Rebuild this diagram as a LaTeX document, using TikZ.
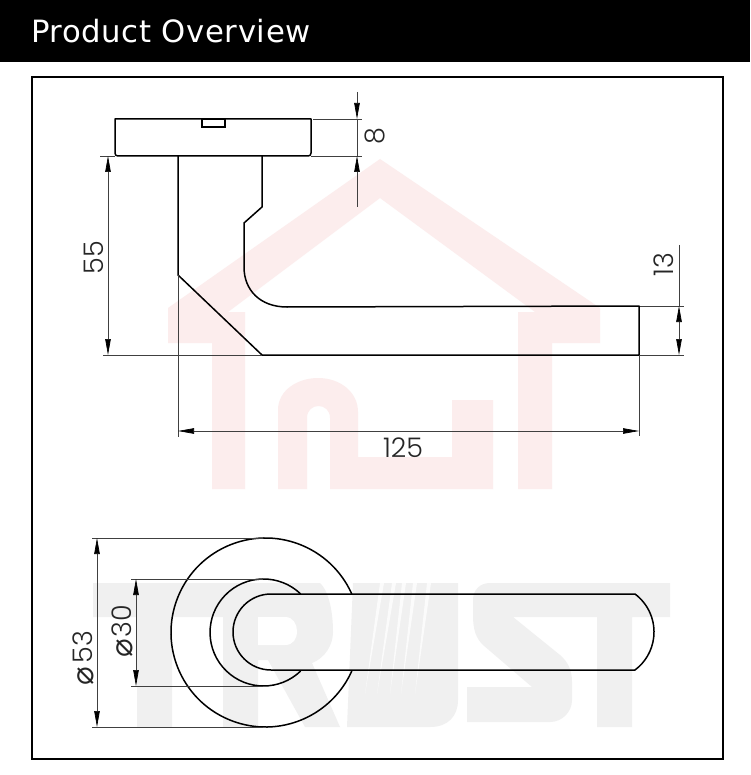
\documentclass[tikz,border=0pt]{standalone}
\usepackage{fontspec}
\usetikzlibrary{arrows.meta}
\setmainfont{DejaVu Sans}
\newfontfamily\titlefont[LetterSpace=2]{DejaVu Sans}
\newfontfamily\dimfont{Poppins Light}
\newfontfamily\symfont{DejaVu Sans}
\definecolor{housepink}{HTML}{FCEDED}
\definecolor{trustgrey}{HTML}{F0F0F0}
\tikzset{
  outline/.style={line width=1.5pt, black, line join=round},
  dimline/.style={line width=0.7pt, black!75},
  dimtip/.style={-{Triangle[length=16pt, width=5.5pt, black]}},
  dimboth/.style={{Triangle[length=16pt, width=5.5pt, black]}-{Triangle[length=16pt, width=5.5pt, black]}},
  dimlabel/.style={inner sep=0pt, font=\dimfont\fontsize{27}{27}\selectfont, text=black!85},
}
\begin{document}
\begin{tikzpicture}[x=1pt, y=-1pt]
  \useasboundingbox (0,0) rectangle (750,775);
  \fill[white] (0,0) rectangle (750,775);
  \fill[black] (0,0) rectangle (750,62);
  \node[anchor=base west, inner sep=0pt, text=white, font=\titlefont\fontsize{30.7}{31}\selectfont] (title) at (31,43) {Product Overview};

  \fill[housepink] (380,159) -- (600,308) -- (600,343) -- (552,343) -- (552,489) -- (518,489) -- (518,312) -- (535,312)
    -- (380,198) -- (228,312) -- (245,312) -- (245,489) -- (212,489) -- (212,343) -- (168,343) -- (168,308) -- cycle;
  \fill[housepink] (278,489) -- (278,410) .. controls (278,390) and (298,378) .. (318,378) .. controls (340,378) and (358,392) .. (358,412)
    -- (358,457) -- (452,457) -- (452,400) -- (493,400) -- (493,489) -- (330,489) -- (330,418) .. controls (330,402) and (307,402) .. (307,418)
    -- (307,489) -- cycle;

  \fill[trustgrey] (93,583) -- (320,583) .. controls (328,590) and (333,610) .. (333,632) .. controls (333,645) and (325,658) .. (312,663)
    -- (340,727) -- (305,727) -- (268,660) -- (258,660) -- (258,727) -- (223,727) -- (223,617) -- (172,617) -- (172,727) -- (137,727) -- (137,617) -- (93,617) -- cycle;
  \fill[white] (258,617) -- (285,617) .. controls (293,617) and (297,624) .. (297,631) .. controls (297,639) and (293,645) .. (285,645) -- (258,645) -- cycle;
  \fill[trustgrey] (353,583) -- (458,583) -- (458,700) .. controls (458,716) and (448,727) .. (430,727) -- (347,727) -- cycle;
  \foreach \topx/\botx in {380/365, 392/377, 402/390, 413/401, 427/415}
    \fill[white, opacity=0.75] (\topx,583) -- (\topx+4,583) -- (\botx,694) -- cycle;
  \fill[trustgrey] (490,583) -- (670,583) -- (670,617) -- (632,617) -- (632,727) -- (597,727) -- (597,617) -- (513,617) -- (560,655)
    .. controls (568,662) and (572,670) .. (572,682) -- (572,700) .. controls (572,712) and (562,722) .. (550,722) -- (467,722) -- (467,687) -- (532,687)
    -- (483,645) .. controls (476,638) and (473,630) .. (473,615) -- (473,600) .. controls (473,590) and (480,583) .. (490,583) -- cycle;

  \draw[line width=2pt, black] (32,77) rectangle (723,759);

  \draw[outline] (115,119) -- (115,153) .. controls (115,155) and (116,156) .. (118,156) -- (308,156) .. controls (310,156) and (311,155) .. (311,153) -- (311,119) -- cycle;
  \draw[line width=1.1pt] (202,119) rectangle (225,127);
  \draw[outline] (178,156) -- (178,275) -- (262,355) -- (639,355) -- (639,306) -- (287,307)
    .. controls (260,307) and (244,290) .. (244,267) -- (244,223) -- (262,207) -- (262,156);

  \coordinate (rosetop) at (313,119);
  \coordinate (rosebot) at (311,156);
  \coordinate (eighttop) at (362,119);
  \coordinate (eightbot) at (362,156);
  \coordinate (eightstart) at (357,92);
  \coordinate (eightend) at (357,207);
  \coordinate (eightupper) at (357,119);
  \coordinate (eightlower) at (357,156);
  \draw[dimline] (rosetop) -- (eighttop);
  \draw[dimline] (rosebot) -- (eightbot);
  \draw[dimline] (eightupper) -- (eightlower);
  \draw[dimline, dimtip] (eightstart) -- (eightupper);
  \draw[dimline, dimtip] (eightend) -- (eightlower);
  \node[dimlabel, rotate=90] (eight) at (375,136) {8};

  \coordinate (heighttop) at (108,156);
  \coordinate (heightbot) at (108,355);
  \coordinate (heightextA) at (100,156);
  \coordinate (heightextB) at (103,355);
  \coordinate (heightextC) at (262,355);
  \draw[dimline] (heightextA) -- (115,156);
  \draw[dimline] (heightextB) -- (heightextC);
  \draw[dimline, dimboth] (heighttop) -- (heightbot);
  \node[dimlabel, rotate=90] (height) at (94,258) {55};

  \coordinate (barstart) at (679,245);
  \coordinate (barupper) at (679,306);
  \coordinate (barlower) at (679,355);
  \coordinate (barbelow) at (679,338);
  \draw[dimline] (640,306) -- (684,306);
  \draw[dimline] (640,355) -- (684,355);
  \draw[dimline] (barstart) -- (barupper);
  \draw[dimline, dimtip] (barbelow) -- (barupper);
  \draw[dimline, dimtip] (679,323) -- (barlower);
  \node[dimlabel, rotate=90] (bar) at (664,265) {13};

  \coordinate (lengthleft) at (178,431);
  \coordinate (lengthright) at (639,431);
  \draw[dimline] (178,275) -- (178,437);
  \draw[dimline] (639,355) -- (639,436);
  \draw[dimline, dimboth] (lengthleft) -- (lengthright);
  \node[dimlabel] (length) at (403,448) {125};

  \draw[outline] (351.8,594) arc[start angle=-24.04, end angle=-335.96, radius=94.5];
  \draw[outline] (300.7,594) arc[start angle=-46, end angle=-314, radius=53.5];
  \draw[outline] (635,594) arc[start angle=-53.13, end angle=53.13, radius=47.5] -- (271,670)
    arc[start angle=90, end angle=270, radius=38] -- cycle;

  \coordinate (rosedtop) at (97,538);
  \coordinate (rosedbot) at (97,727);
  \coordinate (neckdtop) at (136,579);
  \coordinate (neckdbot) at (136,686);
  \draw[dimline] (92,538) -- (263,538);
  \draw[dimline] (92,727) -- (263,727);
  \draw[dimline] (131,579) -- (263,579);
  \draw[dimline] (131,686) -- (263,686);
  \draw[dimline, dimboth] (rosedtop) -- (rosedbot);
  \draw[dimline, dimboth] (neckdtop) -- (neckdbot);
  \node[dimlabel, rotate=90] (rosed) at (83,658) {{\symfont\fontsize{31}{31}\selectfont\raisebox{-1pt}{⌀}}\kern3pt 53};
  \node[dimlabel, rotate=90] (neckd) at (122,631) {{\symfont\fontsize{31}{31}\selectfont\raisebox{-1pt}{⌀}}\kern1pt 30};
\end{tikzpicture}
\end{document}
